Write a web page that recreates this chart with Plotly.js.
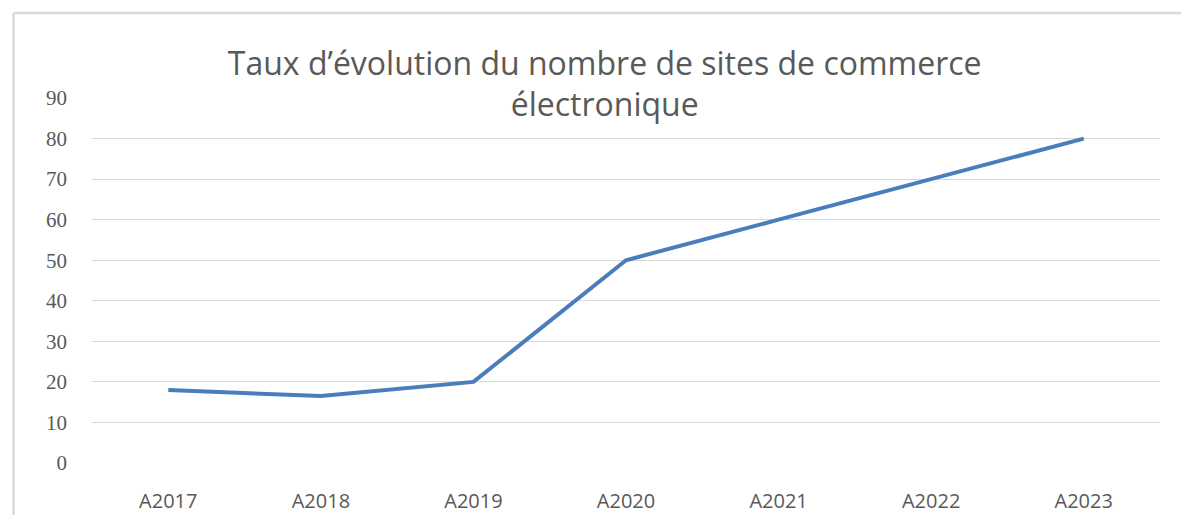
<!DOCTYPE html>
<html>
<head>
<meta charset="utf-8">
<script src="https://cdn.plot.ly/plotly-3.0.1.min.js"></script>
<style>html,body{margin:0;padding:0;background:#fff;}#chart{width:1181px;height:515px;}</style>
</head>
<body>
<div id="chart"></div>
<script>
const categories = ["A2017", "A2018", "A2019", "A2020", "A2021", "A2022", "A2023"];
const values = [18, 16.5, 20, 50, 60, 70, 80];
const yTicks = [0, 10, 20, 30, 40, 50, 60, 70, 80, 90];
const titleText = "Taux d’évolution du nombre de sites de commerce<br>électronique";

const trace = {
  x: categories,
  y: values,
  type: "scatter",
  mode: "lines",
  line: {color: "#4a7ebb", width: 4},
  hoverinfo: "skip"
};

const layout = {
  width: 1181,
  height: 515,
  margin: {l: 92, r: 21, t: 98, b: 52},
  paper_bgcolor: "#ffffff",
  plot_bgcolor: "#ffffff",
  showlegend: false,
  title: {
    text: titleText,
    font: {family: "Open Sans", size: 32, color: "#595959"},
    x: 0.512, xanchor: "center",
    y: 0.855, yanchor: "middle"
  },
  xaxis: {
    type: "category",
    range: [-0.5, 6.5],
    showgrid: false,
    zeroline: false,
    showline: false,
    ticks: "",
    ticklabelstandoff: 24,
    tickfont: {family: "Open Sans", size: 20, color: "#595959"}
  },
  yaxis: {
    range: [0, 90],
    tickvals: yTicks,
    showgrid: true,
    gridcolor: "#d9d9d9",
    gridwidth: 1,
    zeroline: false,
    showline: false,
    ticks: "",
    ticklabelstandoff: 24,
    tickfont: {family: "Liberation Serif", size: 21, color: "#595959"}
  },
  shapes: [
    {type: "line", xref: "paper", yref: "paper", x0: -0.0735, x1: 1.1, y0: 1.233, y1: 1.233,
     line: {color: "#d9d9d9", width: 2.5}},
    {type: "line", xref: "paper", yref: "paper", x0: -0.0735, x1: -0.0735, y0: 1.233, y1: -0.2,
     line: {color: "#d9d9d9", width: 2.5}}
  ]
};

Plotly.newPlot("chart", [trace], layout, {displayModeBar: false, staticPlot: true});
</script>
</body>
</html>
